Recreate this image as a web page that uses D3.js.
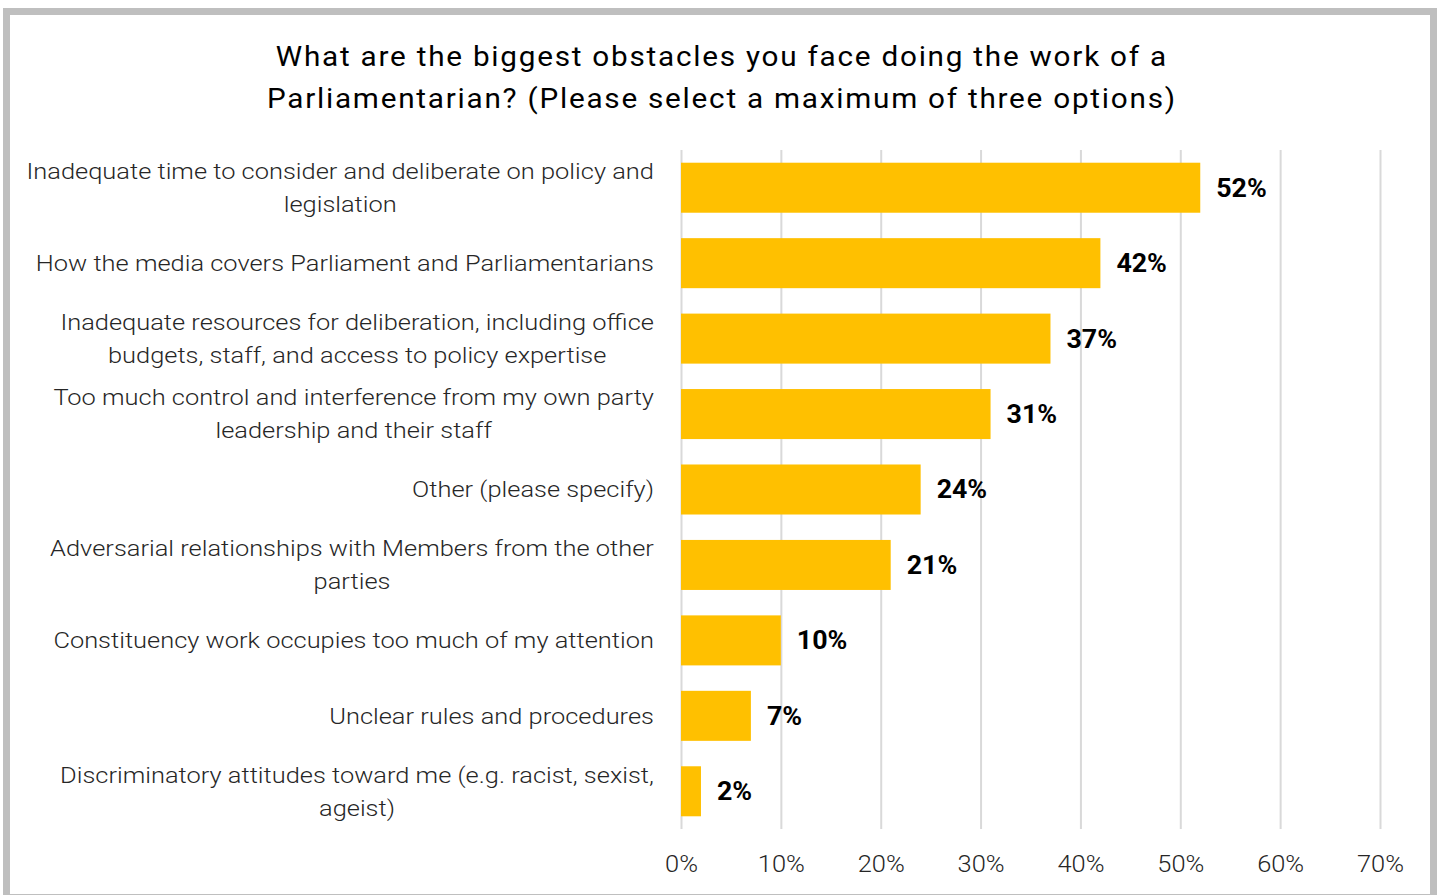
<!DOCTYPE html>
<html>
<head>
<meta charset="utf-8">
<script src="https://cdn.jsdelivr.net/npm/d3@7"></script>
<style>
  html, body { margin: 0; padding: 0; background: #fff; }
  svg { display: block; }
  text { font-family: Roboto, "Noto Sans", sans-serif; }
</style>
</head>
<body>
<svg id="chart" width="1439" height="895"></svg>
<script>
// Survey answers, top to bottom, with the share of respondents choosing each
const categories = [
  ["Inadequate time to consider and deliberate on policy and", "legislation"],
  ["How the media covers Parliament and Parliamentarians"],
  ["Inadequate resources for deliberation, including office", "budgets, staff, and access to policy expertise"],
  ["Too much control and interference from my own party", "leadership and their staff"],
  ["Other (please specify)"],
  ["Adversarial relationships with Members from the other", "parties"],
  ["Constituency work occupies too much of my attention"],
  ["Unclear rules and procedures"],
  ["Discriminatory attitudes toward me (e.g. racist, sexist,", "ageist)"]
];
const values = [0.52, 0.42, 0.37, 0.31, 0.24, 0.21, 0.10, 0.07, 0.02];
const tickValues = [0, 0.1, 0.2, 0.3, 0.4, 0.5, 0.6, 0.7];
const titleLines = [
  "What are the biggest obstacles you face doing the work of a",
  "Parliamentarian? (Please select a maximum of three options)"
];

const svg = d3.select("#chart");

// outer frame
svg.append("rect")
  .attr("x", 6.5).attr("y", 11.5)
  .attr("width", 1427).attr("height", 886)
  .attr("fill", "#fff")
  .attr("stroke", "#bfbfbf")
  .attr("stroke-width", 7);

// title: slightly widened face with open tracking
const titleScale = 1.1;
const titleSpacing = 1.6;
svg.append("g").selectAll("text")
  .data(titleLines)
  .join("text")
  .attr("transform", (d, i) => `translate(${721 + titleSpacing * titleScale / 2},${66 + i * 42}) scale(${titleScale},1)`)
  .attr("text-anchor", "middle")
  .attr("font-size", 27)
  .attr("letter-spacing", titleSpacing)
  .attr("fill", "#000")
  .text(d => d);

const plot = { left: 681, right: 1380, top: 150, bottom: 829 };
const ids = categories.map((d, i) => i);

const x = d3.scaleLinear().domain([0, 0.7]).range([plot.left, plot.right]);
const y = d3.scaleBand().domain(ids).range([plot.top, plot.bottom])
  .paddingInner(0.337).paddingOuter(0.337 / 2);

// vertical gridlines and percentage tick labels
const axis = svg.append("g")
  .attr("transform", `translate(0,${plot.bottom})`)
  .call(d3.axisBottom(x)
    .tickValues(tickValues)
    .tickSize(-(plot.bottom - plot.top))
    .tickPadding(26)
    .tickFormat(d3.format(".0%")));
axis.select(".domain").remove();
axis.selectAll(".tick line").attr("stroke", "#d9d9d9").attr("stroke-width", 2);
axis.selectAll(".tick text")
  .attr("font-family", "Roboto, sans-serif")
  .attr("font-weight", 300)
  .attr("font-size", 24)
  .attr("fill", "#262626")
  .attr("transform", "scale(1.06,1)");

// bars
svg.append("g").selectAll("rect")
  .data(values)
  .join("rect")
  .attr("x", x(0))
  .attr("y", (d, i) => y(i))
  .attr("width", d => x(d) - x(0))
  .attr("height", y.bandwidth())
  .attr("fill", "#ffc000");

// value labels
svg.append("g").selectAll("text")
  .data(values)
  .join("text")
  .attr("transform", (d, i) => `translate(${x(d) + 16},${y(i) + y.bandwidth() / 2}) scale(1.05,1)`)
  .attr("dy", "0.35em")
  .attr("font-weight", 700)
  .attr("font-size", 25.5)
  .attr("fill", "#000")
  .text(d => d3.format(".0%")(d));

// category labels: right-aligned blocks with centred lines
const labelRight = 654;
const lineGap = 33;
const labelScale = 1.13;
categories.forEach((lines, i) => {
  const cy = y(i) + y.bandwidth() / 2;
  const g = svg.append("g");
  const texts = g.selectAll("text")
    .data(lines)
    .join("text")
    .attr("dy", "0.35em")
    .attr("text-anchor", "middle")
    .attr("font-weight", 300)
    .attr("font-size", 22.5)
    .attr("fill", "#262626")
    .text(d => d);
  let maxW = 0;
  texts.each(function () { maxW = Math.max(maxW, this.getComputedTextLength()); });
  const cx = labelRight - (maxW * labelScale) / 2;
  texts.attr("transform", (d, j) =>
    `translate(${cx},${cy + (j - (lines.length - 1) / 2) * lineGap}) scale(${labelScale},1)`);
});
</script>
</body>
</html>
